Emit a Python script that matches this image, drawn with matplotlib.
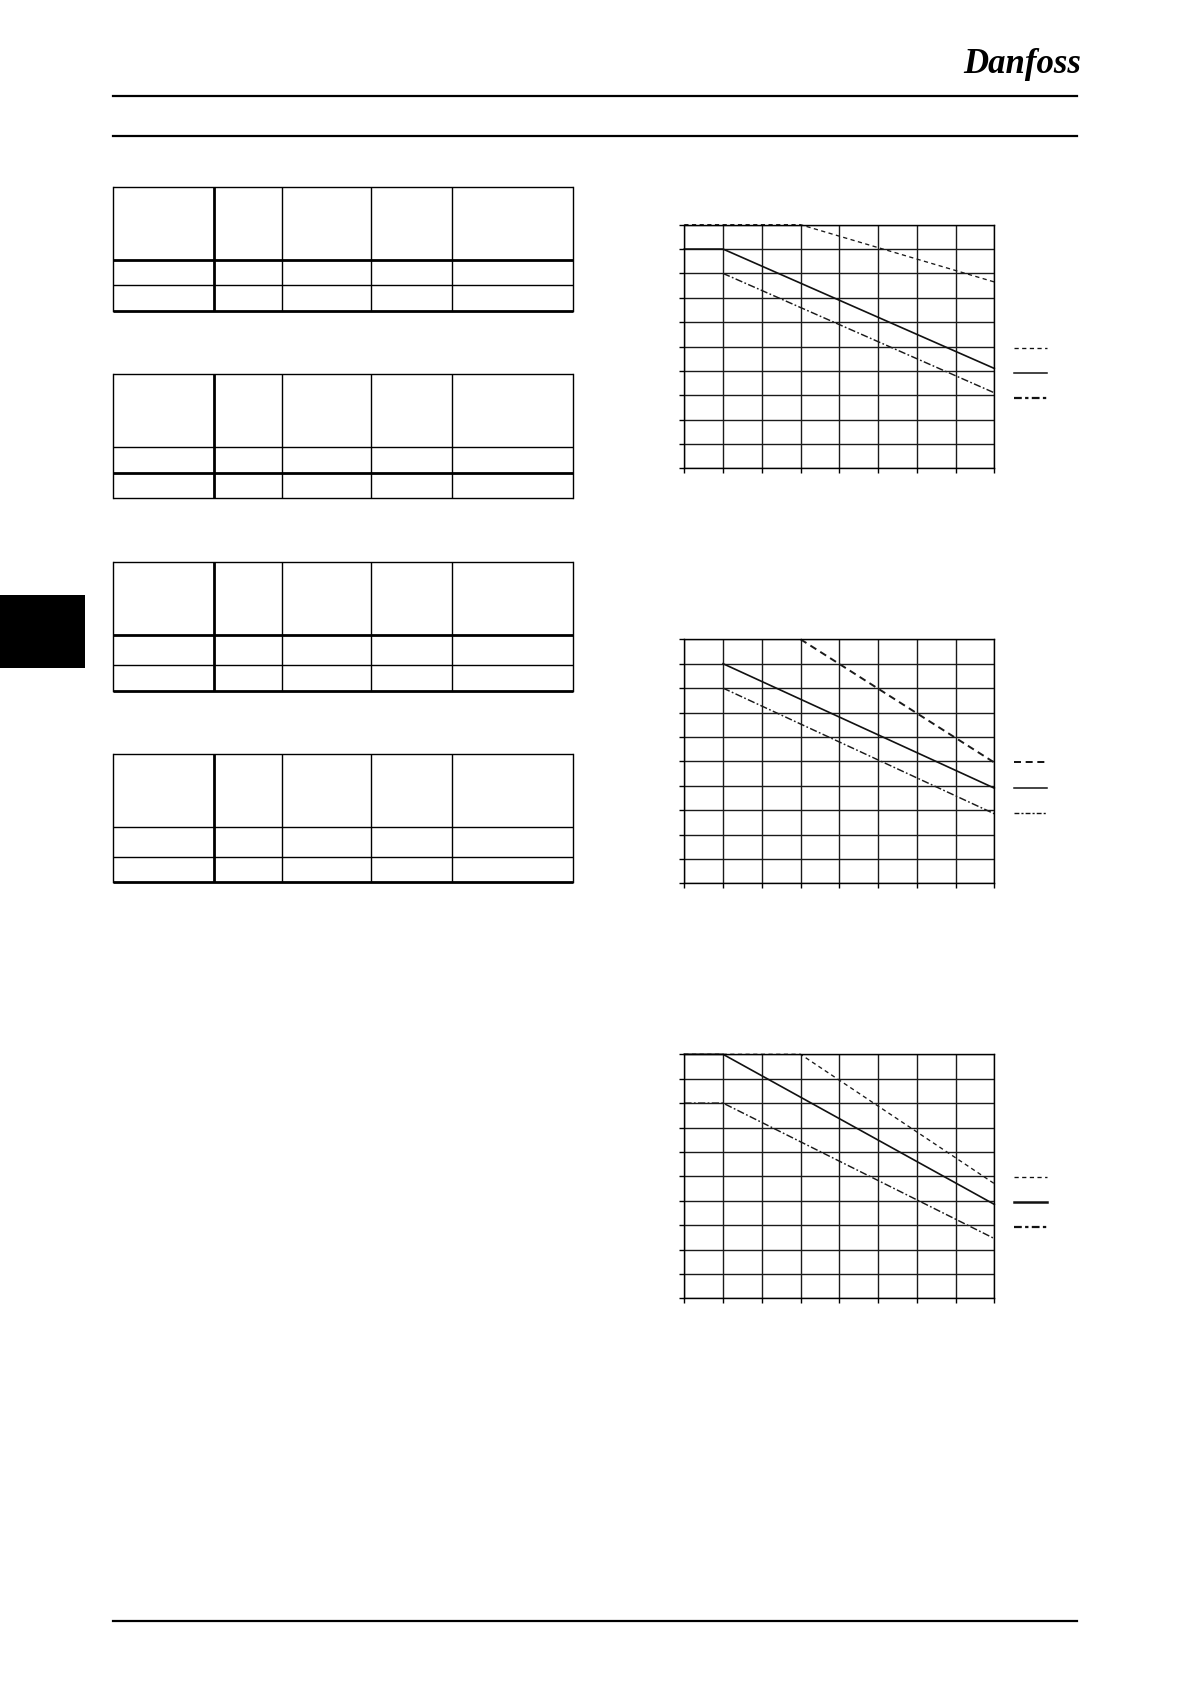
#!/usr/bin/env python
"""Datasheet page: four empty rating tables on the left, three derating
curves (output current vs. ambient temperature) on the right."""

import matplotlib
matplotlib.use("Agg")
import matplotlib.pyplot as plt
from matplotlib.lines import Line2D
from matplotlib.patches import Rectangle

W, H = 1191, 1684
DPI = 100

# --- chart data (grid units: x 0..8, y 0..10) -------------------------------
X_STEPS = list(range(0, 9))
Y_STEPS = list(range(0, 11))

c1_dash_x = [0, 3, 8]
c1_dash_y = [10, 10, 7.65]
c1_solid_x = [0, 1, 8]
c1_solid_y = [9, 9, 4.1]
c1_dd_x = [1, 8]
c1_dd_y = [8, 3.1]

c2_dash_x = [3, 8]
c2_dash_y = [10, 4.95]
c2_solid_x = [1, 8]
c2_solid_y = [9, 3.9]
c2_dd_x = [1, 8]
c2_dd_y = [8, 2.85]

c3_dash_x = [0, 3, 8]
c3_dash_y = [10, 10, 4.7]
c3_solid_x = [0, 1, 8]
c3_solid_y = [10, 10, 3.85]
c3_dd_x = [0, 1, 8]
c3_dd_y = [8, 8, 2.45]

CHARTS = [
    (c1_dash_x, c1_dash_y, c1_solid_x, c1_solid_y, c1_dd_x, c1_dd_y),
    (c2_dash_x, c2_dash_y, c2_solid_x, c2_solid_y, c2_dd_x, c2_dd_y),
    (c3_dash_x, c3_dash_y, c3_solid_x, c3_solid_y, c3_dd_x, c3_dd_y),
]

# --- layout (pixels) ----------------------------------------------------------
CHART_LEFT, CHART_RIGHT = 684.3, 994.3
CHART_TOPS = [224.7, 639.3, 1054.3]
CHART_BOTTOMS = [468.3, 883.3, 1298.3]
LEGEND_Y = [(347.7, 397.7), (762.3, 812.7), (1177, 1227)]
DASH_STYLES = [(0, (3.2, 2.6)), (0, (3.6, 2.4)), (0, (3.2, 2.6))]
DASH_LW = [0.95, 1.4, 0.95]
# legend swatches are drawn a little heavier in charts 1 and 3
LEGEND_DD_LW = [1.6, 1.0, 1.6]
LEGEND_SOLID_LW = [1.1, 1.1, 1.8]

TABLE_LEFT, TABLE_RIGHT = 113.3, 572.7
TABLE_COLS = [213.7, 282.3, 371.3, 452.3]
# (top, header, row, bottom) and which horizontal rules are heavy
TABLES = [
    ((187.3, 260.0, 285.3, 310.7), (False, True, False, True)),
    ((374.3, 447.3, 472.7, 498.3), (False, False, True, False)),
    ((562.3, 635.0, 665.0, 690.7), (False, True, False, True)),
    ((754.3, 827.3, 857.0, 882.3), (False, False, False, True)),
]

fig = plt.figure(figsize=(W / DPI, H / DPI), dpi=DPI)
page = fig.add_axes([0, 0, 1, 1])
page.set_xlim(0, W)
page.set_ylim(H, 0)
page.axis("off")

# page header / footer rules
page.plot([112.7, 1077.3], [95.7, 95.7], color="black", lw=1.6)
page.plot([112.7, 1077.3], [135.7, 135.7], color="black", lw=1.6)
page.plot([112.7, 1077.3], [1620.7, 1620.7], color="black", lw=1.6)
page.text(1022, 73, "Danfoss", fontsize=25, fontstyle="italic",
          fontweight="bold", family="Liberation Serif", ha="center",
          va="baseline")

# chapter tab
page.add_patch(Rectangle((0, 595), 85, 73, color="black", lw=0))

# empty tables
thin, thick = 1.0, 2.0
for rows, heavy in TABLES:
    top, bottom = rows[0], rows[-1]
    for y, hv in zip(rows, heavy):
        page.plot([TABLE_LEFT, TABLE_RIGHT], [y, y], color="black",
                  lw=thick if hv else thin, solid_capstyle="butt")
    page.plot([TABLE_LEFT, TABLE_LEFT], [top, bottom], color="black", lw=thin)
    page.plot([TABLE_RIGHT, TABLE_RIGHT], [top, bottom], color="black", lw=thin)
    for i, x in enumerate(TABLE_COLS):
        page.plot([x, x], [top, bottom], color="black",
                  lw=thick if i == 0 else thin, solid_capstyle="butt")

# derating charts
for k, (dx, dy, sx, sy, ddx, ddy) in enumerate(CHARTS):
    top, bot = CHART_TOPS[k], CHART_BOTTOMS[k]
    ax = fig.add_axes([CHART_LEFT / W, 1 - bot / H,
                       (CHART_RIGHT - CHART_LEFT) / W, (bot - top) / H])
    ax.set_xlim(0, 8)
    ax.set_ylim(0, 10)
    ax.set_xticks(X_STEPS)
    ax.set_yticks(Y_STEPS)
    ax.tick_params(length=3.5, width=1.0, labelbottom=False, labelleft=False)
    ax.grid(True, color="#1a1a1a", lw=1.0)
    for sp in ax.spines.values():
        sp.set_linewidth(1.0)
    ax.set_axisbelow(True)

    dd_style = (0, (5.0, 1.6, 1.2, 1.6))
    ax.plot(dx, dy, color="#1a1a1a", lw=DASH_LW[k],
            linestyle=DASH_STYLES[k], clip_on=False)
    ax.plot(sx, sy, color="#111111", lw=1.2, clip_on=False)
    ax.plot(ddx, ddy, color="#1a1a1a", lw=1.05, linestyle=dd_style,
            clip_on=False)

    # legend samples (no labels on this page)
    y0, y1 = LEGEND_Y[k]
    xs = [(1014 - CHART_LEFT) / (CHART_RIGHT - CHART_LEFT) * 8,
          (1047 - CHART_LEFT) / (CHART_RIGHT - CHART_LEFT) * 8]
    swatches = [(y0, DASH_LW[k], DASH_STYLES[k]),
                ((y0 + y1) / 2, LEGEND_SOLID_LW[k], "-"),
                (y1, LEGEND_DD_LW[k], (0, (3.5, 1.5, 1.5, 1.5)))]
    for yy, lw, ls in swatches:
        ly = (bot - yy) / (bot - top) * 10
        ax.add_line(Line2D(xs, [ly, ly], color="#111111", lw=lw,
                           linestyle=ls, clip_on=False))

fig.savefig("out.png", dpi=DPI)
